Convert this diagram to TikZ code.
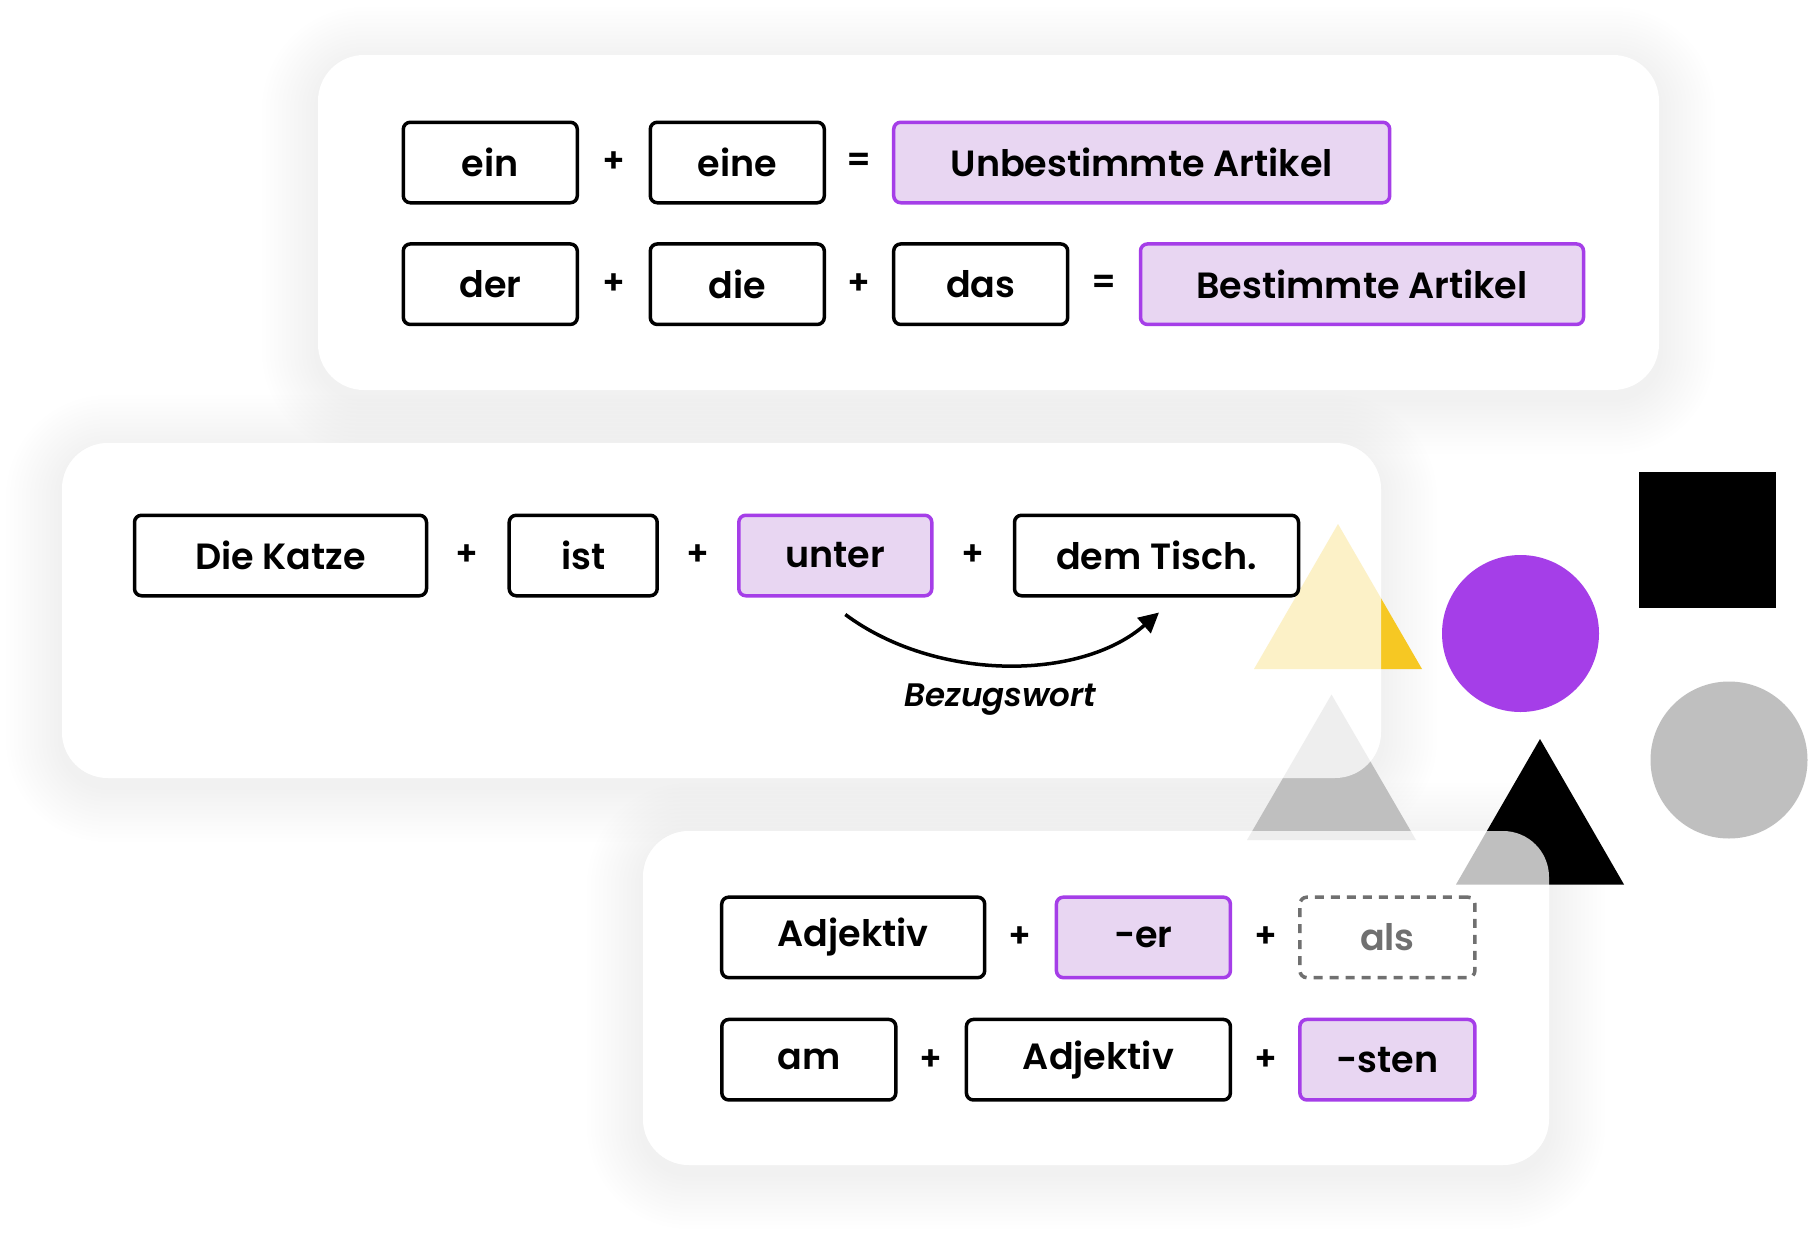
\documentclass[tikz,border=0pt]{standalone}
\usepackage{fontspec}
\setmainfont{Poppins}[UprightFont={* SemiBold}, ItalicFont={* SemiBold Italic}]
\usetikzlibrary{arrows.meta}
\definecolor{purp}{HTML}{A53EE8}
\definecolor{lpurp}{HTML}{E8D6F2}
\definecolor{ylw}{HTML}{F6C823}
\definecolor{gry}{HTML}{BFBFBF}
\definecolor{dgry}{HTML}{707070}
\tikzset{
  wordbox/.style={draw=black, line width=3.5pt, rounded corners=7pt, fill=white,
    minimum height=80.5pt, inner sep=0pt, font=\fontsize{36.5}{42}\selectfont, text=black},
  hibox/.style={wordbox, draw=purp, fill=lpurp},
  ghostbox/.style={wordbox, draw=dgry, dash pattern=on 9pt off 7pt, text=dgry},
  op/.style={font=\fontsize{34}{38}\selectfont, inner sep=0pt, text=black},
  card/.style={rounded corners=46pt},
  arrowline/.style={line width=3.5pt, -{Triangle[length=20pt,width=20pt]}},
}
\newcommand\cardshadow[4]{%
  \foreach \i in {1,...,14}{%
    \pgfmathsetmacro\rr{46+\i*4}%
    \fill[black, fill opacity=0.004, rounded corners=\rr pt]
      ({#1-\i*4},{#2-\i*4+8}) rectangle ({#3+\i*4},{#4+\i*4+8});
  }}
\begin{document}
\begin{tikzpicture}[x=1pt,y=-1pt]
\useasboundingbox (0,0) rectangle (1809,1234);
\fill[white] (0,0) rectangle (1809,1234);
% shadows
\cardshadow{318}{55}{1659}{390}
\cardshadow{62}{443}{1381}{778}
\cardshadow{643}{831}{1549}{1165}
% cards
\fill[white, card] (318,55) rectangle (1659,390);
\fill[white, card] (62,443) rectangle (1381,778);
\fill[white, card] (643,831) rectangle (1549,1165);
% decorative shapes
\fill[ylw] (1338,524) -- (1422,669) -- (1254,669) -- cycle;
\fill[gry] (1331.5,694.5) -- (1416,840) -- (1247,840) -- cycle;
\fill[black] (1540,739) -- (1624,884.5) -- (1456,884.5) -- cycle;
\fill[purp] (1520.5,633.5) circle[radius=78.5];
\fill[gry] (1729,760) circle[radius=78.5];
\fill[black] (1639,472) rectangle (1775.5,608);
% translucent card overlay
\fill[white, fill opacity=0.75, card] (62,443) rectangle (1381,778);
\fill[white, fill opacity=0.75, card] (643,831) rectangle (1549,1165);
% card 1
\node[wordbox, minimum width=174pt] (ein) at (490.3,162.5) {ein};
\node[op] (p1) at (614,162.5) {+};
\node[wordbox, minimum width=174pt] (eine) at (737.3,162.5) {eine};
\node[op] (q1) at (859,162.5) {=};
\node[hibox, minimum width=496pt] (unb) at (1141.7,162.5) {Unbestimmte Artikel};
\node[wordbox, minimum width=174pt] (der) at (490.3,284.2) {der};
\node[op] (p2) at (614,284.2) {+};
\node[wordbox, minimum width=174pt] (die) at (737.3,284.2) {die};
\node[op] (p3) at (859,284.2) {+};
\node[wordbox, minimum width=174pt] (das) at (980.7,284.2) {das};
\node[op] (q2) at (1104,284.2) {=};
\node[hibox, minimum width=443pt] (best) at (1362,284.2) {Bestimmte Artikel};
% card 2
\node[wordbox, minimum width=292pt] (katze) at (280.5,555.5) {Die Katze};
\node[op] (p4) at (467.3,555.5) {+};
\node[wordbox, minimum width=148pt] (ist) at (583.2,555.5) {ist};
\node[op] (p5) at (698,555.5) {+};
\node[hibox, minimum width=193pt] (unter) at (835.3,555.5) {unter};
\node[op] (p6) at (972.6,555.5) {+};
\node[wordbox, minimum width=284pt] (tisch) at (1156.5,555.5) {dem Tisch.};
\draw[arrowline] ([xshift=10pt,yshift=-17pt]unter.south) .. controls +(90,67) and +(-79,69) .. ([xshift=2.5pt,yshift=-15pt]tisch.south);
\node[font=\itshape\fontsize{32.5}{37}\selectfont] (bez) at (1000.5,700) {Bezugswort};
% card 3
\node[wordbox, minimum width=263pt] (adj1) at (853.2,937.4) {Adjektiv};
\node[op] (p7) at (1020.3,937.4) {+};
\node[hibox, minimum width=174pt] (er) at (1143.4,937.4) {-er};
\node[op] (p8) at (1265.6,937.4) {+};
\node[ghostbox, minimum width=175pt] (als) at (1387.4,937.4) {als};
\node[wordbox, minimum width=174pt] (am) at (808.8,1059.7) {am};
\node[op] (p9) at (930.8,1059.7) {+};
\node[wordbox, minimum width=264pt] (adj2) at (1098.4,1059.7) {Adjektiv};
\node[op] (p10) at (1265.6,1059.7) {+};
\node[hibox, minimum width=175pt] (sten) at (1387.4,1059.7) {-sten};
\end{tikzpicture}
\end{document}
